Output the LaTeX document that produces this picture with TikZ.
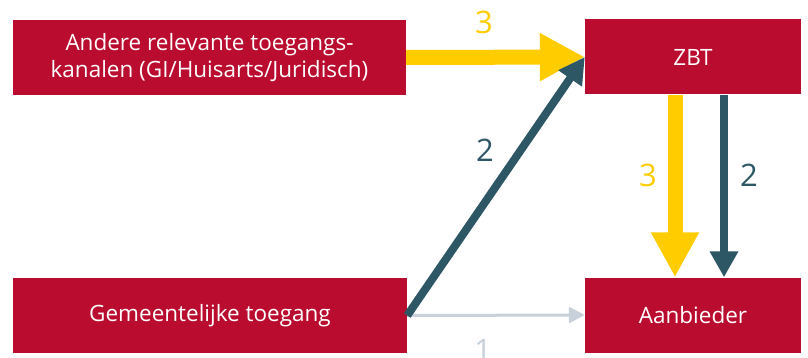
\documentclass[tikz,border=0pt]{standalone}
\usepackage{fontspec}
\setmainfont{Open Sans}
\usetikzlibrary{arrows.meta}
\definecolor{boxred}{HTML}{BA0C2F}
\definecolor{ayellow}{HTML}{FFCC00}
\definecolor{ateal}{HTML}{2E5766}
\definecolor{agray}{HTML}{C8D0D9}
\begin{document}
\begin{tikzpicture}[x=1pt,y=-1pt,
  box/.style={fill=boxred,draw=none,text=white,align=center,inner sep=0pt,
    minimum height=75pt,font=\fontsize{22.5}{27}\selectfont},
  lbl/.style={font=\fontsize{31}{34}\selectfont},
  yarrow/.style={draw=ayellow,line width=15pt,-{Triangle[length=45pt,width=45pt]}},
  tarrow/.style={draw=ateal,line width=8pt,-{Triangle[length=26pt,width=27pt]}},
  garrow/.style={draw=agray,line width=3pt,-{Triangle[length=16pt,width=16pt]}}]
\useasboundingbox (0,0) rectangle (808,358);
\node[box,minimum width=393pt] (A) at (209.5,57.5) {Andere relevante toegangs-\\kanalen (GI/Huisarts/Juridisch)};
\node[box,minimum width=216pt] (Z) at (693,57) {ZBT};
\node[box,minimum width=394pt] (G) at (210,315.5) {Gemeentelijke toegang};
\node[box,minimum width=216pt] (B) at (693,315) {Aanbieder};
\draw[garrow] (G.east) -- (B.west);
\draw[yarrow] (A.east) -- (Z.west);
\draw[tarrow] (G.east) -- (Z.west);
\draw[yarrow] ([xshift=-18pt]Z.south) -- ([xshift=-18pt]B.north);
\draw[tarrow] ([xshift=31pt]Z.south) -- ([xshift=31pt]B.north);
\node[lbl,text=ayellow] (l1) at (484,22) {3};
\node[lbl,text=ateal] (l2) at (485,150) {2};
\node[lbl,text=agray] (l3) at (483,350) {1};
\node[lbl,text=ayellow] (l4) at (648,175) {3};
\node[lbl,text=ateal] (l5) at (749,175) {2};
\end{tikzpicture}
\end{document}
